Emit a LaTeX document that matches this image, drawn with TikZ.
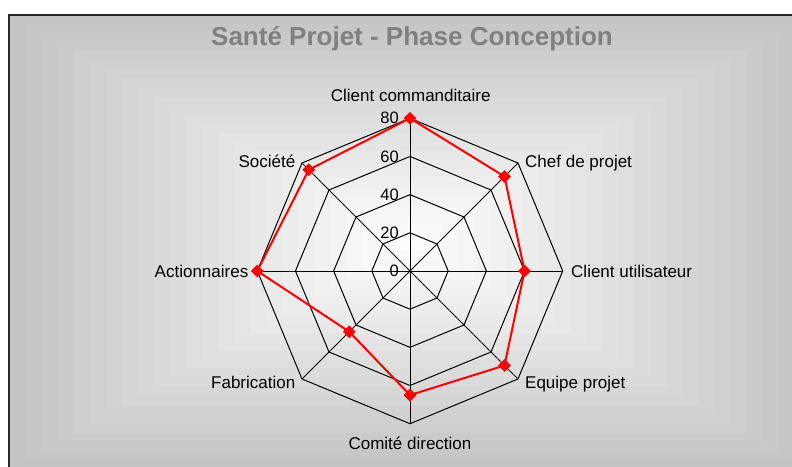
\documentclass[tikz,border=0pt]{standalone}
\usepackage{fontspec}
\setmainfont{Liberation Sans}
\usetikzlibrary{shapes.geometric}

\begin{document}
\begin{tikzpicture}[x=1pt,y=1pt]
\tikzstyle{cadre}=[draw=black!85, line width=2pt]
\tikzstyle{grille}=[draw=black, line width=1pt]
\tikzstyle{titre}=[anchor=base, inner sep=0pt, text=black!50, font=\fontsize{26}{30}\selectfont\bfseries]
\tikzstyle{axe}=[inner sep=0pt, font=\fontsize{17}{20}\selectfont]
\tikzstyle{valeur}=[anchor=east, inner sep=0pt, font=\fontsize{16.5}{19}\selectfont]
\tikzstyle{point}=[diamond, fill=red, inner sep=0pt, minimum size=13pt]
\tikzstyle{serie}=[draw=red, line width=2pt, line join=round]

\def\u{1.909}
\useasboundingbox (-410,-195) rectangle (382,271);

%fond degrade
\foreach \i in {0,...,24}{
  \pgfmathsetmacro{\s}{1-\i/25}
  \pgfmathsetmacro{\c}{23*\s}
  \fill[black!\c] ({-401*\s},{29-227*\s}) rectangle ({401*\s},{29+227*\s});
}
\draw[cadre] (-400.5,-240) rectangle (420,256);

%titre
\node[titre] (titre) at (2,225) {Santé Projet - Phase Conception};

%grille
\foreach \r in {20,40,60,80}
  \draw[grille] (0:{\r*\u}) \foreach \a in {45,90,...,315}{ -- (\a:{\r*\u})} -- cycle;
\foreach \a in {0,45,...,315}
  \draw[grille] (0,0) -- (\a:{80*\u});

%valeurs
\foreach \v in {0,20,...,80}
  \node[valeur] (v\v) at (-11,{\v*\u}) {\v};

%placement des axes
\node[axe, anchor=base] (commanditaire) at (0.7,169.3) {Client commanditaire};
\node[axe, anchor=base west] (chef) at (115,104) {Chef de projet};
\node[axe, anchor=base west] (utilisateur) at (161,-6) {Client utilisateur};
\node[axe, anchor=base west] (equipe) at (115,-117) {Equipe projet};
\node[axe, anchor=base] (comite) at (0,-178.3) {Comité direction};
\node[axe, anchor=base east] (fabrication) at (-114.5,-117) {Fabrication};
\node[axe, anchor=base east] (actionnaires) at (-161.5,-6) {Actionnaires};
\node[axe, anchor=base east] (societe) at (-114.5,104) {Société};

%serie
\foreach \a/\v/\n in {90/80/1, 45/70/2, 0/60/3, -45/70/4, -90/65/5, -135/45/6, 180/80/7, 135/75/8}
  \coordinate (p\n) at (\a:{\v*\u});
\draw[serie] (p1) -- (p2) -- (p3) -- (p4) -- (p5) -- (p6) -- (p7) -- (p8) -- cycle;
\foreach \n in {1,...,8}
  \node[point] (m\n) at (p\n) {};
\end{tikzpicture}
\end{document}
